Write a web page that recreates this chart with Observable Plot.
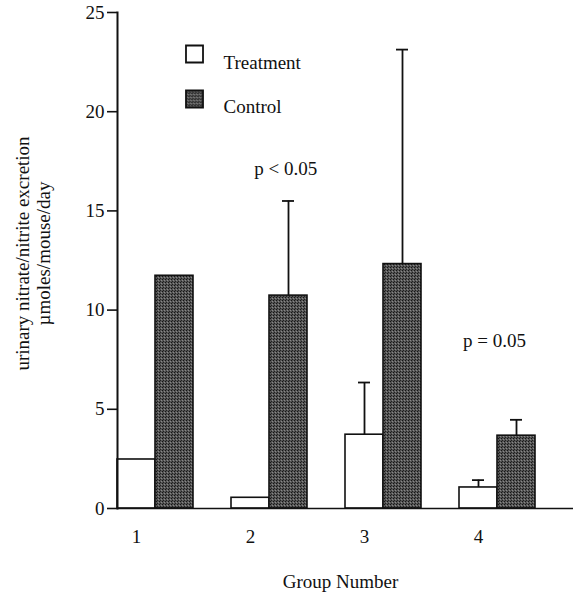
<!DOCTYPE html>
<html>
<head>
<meta charset="utf-8">
<script src="https://cdn.jsdelivr.net/npm/d3@7"></script>
<script src="https://cdn.jsdelivr.net/npm/@observablehq/plot@0.6"></script>
<style>
  html, body { margin: 0; padding: 0; background: #fff; }
  #chart svg { display: block; }
</style>
</head>
<body>
<div id="chart"></div>
<script>
// ---- data ----
const groups = [1, 2, 3, 4];
const treatment = [2.47, 0.54, 3.72, 1.06];
const control = [11.73, 10.73, 12.32, 3.67];
const treatmentErr = [null, null, 2.63, 0.37];
const controlErr = [null, 4.77, 10.81, 0.80];
const yTicks = [0, 5, 10, 15, 20, 25];
const seriesNames = ["Treatment", "Control"];
const pLabels = ["p < 0.05", "p = 0.05"];
const pGroup = [2.31, 4.14];
const pValue = [17.1, 8.45];
const xTitle = "Group Number";
const yTitle = "urinary nitrate/nitrite excretion\nµmoles/mouse/day";

// ---- table built from the arrays ----
const barW = 1 / 3; // bar width as fraction of group spacing
const rows = [];
groups.forEach((g, i) => {
  rows.push({group: g, series: "Treatment", value: treatment[i], err: treatmentErr[i],
             x1: g - barW / 2, x2: g + barW / 2, xc: g});
  rows.push({group: g, series: "Control", value: control[i], err: controlErr[i],
             x1: g + barW / 2, x2: g + 1.5 * barW, xc: g + barW});
});
const errRows = rows.filter(d => d.err != null);
const fills = {Treatment: "white", Control: "url(#stipple)"};
const notes = pLabels.map((t, i) => ({text: t, x: pGroup[i], y: pValue[i]}));

const font = "'Liberation Serif', 'Times New Roman', serif";

const chart = Plot.plot({
  width: 580,
  height: 601,
  marginLeft: 117,
  marginRight: 7,
  marginTop: 12,
  marginBottom: 93,
  style: {fontFamily: font, fontSize: "19px", color: "#111", background: "white"},
  x: {type: "linear", domain: [1 - barW / 2, 4 + 2.5 * barW], axis: null},
  y: {domain: [0, 25], axis: null},
  marks: [
    Plot.rectY(rows, {x1: "x1", x2: "x2", y1: 0, y2: "value",
      fill: d => fills[d.series], stroke: "#111", strokeWidth: 1.6}),
    Plot.ruleX(errRows, {x: "xc", y1: "value", y2: d => d.value + d.err,
      stroke: "#111", strokeWidth: 1.8}),
    Plot.ruleY(errRows, {x1: "xc", x2: "xc", y: d => d.value + d.err,
      insetLeft: -6, insetRight: -6, stroke: "#111", strokeWidth: 1.8}),
    Plot.ruleY([0], {stroke: "#111", strokeWidth: 1.6}),
    Plot.frame({anchor: "left", stroke: "#111", strokeWidth: 2}),
    Plot.axisY({ticks: yTicks, tickSize: 10, tickPadding: 3, tickFormat: d => String(d),
      label: null, fontSize: 19, stroke: "#111", strokeWidth: 1.6}),
    Plot.axisX({ticks: groups, tickSize: 0, tickPadding: 21, tickFormat: d => String(d),
      label: null, fontSize: 19}),
    Plot.text([xTitle], {frameAnchor: "bottom", dx: -5, dy: 79, fontSize: 19, fill: "#111"}),
    Plot.text([yTitle], {frameAnchor: "left", rotate: -90, dx: -85, dy: -7,
      textAnchor: "middle", lineAnchor: "middle", lineHeight: 1.13, fontSize: 19, fill: "#111"}),
    Plot.text(notes, {x: "x", y: "y", text: "text", fontSize: 19, fill: "#111"}),
    // legend
    Plot.dot([seriesNames[0]], {frameAnchor: "top-left", dx: 77, dy: 41.5, symbol: "square",
      r: 9.6, fill: "white", stroke: "#111", strokeWidth: 1.8}),
    Plot.dot([seriesNames[1]], {frameAnchor: "top-left", dx: 77, dy: 86.5, symbol: "square",
      r: 9.6, fill: "url(#stipple)", stroke: "#111", strokeWidth: 1.8}),
    Plot.text([seriesNames[0]], {frameAnchor: "top-left", dx: 106, dy: 43,
      textAnchor: "start", fontSize: 19, fill: "#111"}),
    Plot.text([seriesNames[1]], {frameAnchor: "top-left", dx: 106, dy: 87,
      textAnchor: "start", fontSize: 19, fill: "#111"})
  ]
});

d3.select(chart).insert("defs", ":first-child").html(`
  <pattern id="stipple" patternUnits="userSpaceOnUse" width="3" height="3">
    <rect width="3" height="3" fill="#555"></rect>
    <rect x="0" y="0" width="1" height="1" fill="#151515"></rect>
    <rect x="1" y="2" width="1" height="1" fill="#222"></rect>
    <rect x="2" y="1" width="1" height="1" fill="#888"></rect>
  </pattern>`);

document.getElementById("chart").appendChild(chart);
</script>
</body>
</html>
